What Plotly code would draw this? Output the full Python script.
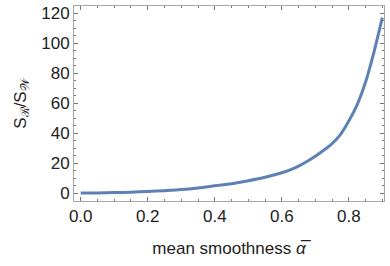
import plotly.graph_objects as go

alpha = [0.0, 0.05, 0.1, 0.15, 0.2, 0.25, 0.3, 0.35, 0.4, 0.45, 0.5, 0.55, 0.6, 0.625,
         0.65, 0.675, 0.7, 0.725, 0.75, 0.775, 0.8, 0.825, 0.85, 0.875, 0.9]
ratio = [0.0, 0.1, 0.3, 0.6, 1.0, 1.6, 2.3, 3.4, 4.8, 6.2, 8.2, 10.5, 13.5, 15.5,
         18.0, 21.0, 24.5, 28.5, 33.0, 39.0, 48.0, 59.0, 74.0, 94.0, 117.0]

x_ticks = [0.0, 0.2, 0.4, 0.6, 0.8]
x_tick_text = ["0.0", "0.2", "0.4", "0.6", "0.8"]
y_ticks = [0, 20, 40, 60, 80, 100, 120]

fig = go.Figure()
fig.add_trace(go.Scatter(x=alpha, y=ratio, mode="lines",
                         line=dict(color="#5E81B5", width=3, shape="spline", smoothing=0.8)))

frame = "#a6a6a6"
fig.update_layout(
    width=390, height=266,
    margin=dict(l=74, r=6, t=6, b=65),
    paper_bgcolor="white", plot_bgcolor="white",
    showlegend=False,
    font=dict(family="Liberation Sans, Arial", size=17, color="#222"),
)
fig.update_xaxes(
    range=[-0.02, 0.905], tickvals=x_ticks, ticktext=x_tick_text,
    automargin=False,
    showgrid=False, zeroline=False,
    showline=True, linecolor=frame, linewidth=1, mirror="ticks",
    ticks="inside", ticklen=4, tickcolor="#777", tickwidth=1,
    minor=dict(dtick=0.05, ticks="inside", ticklen=2, tickcolor="#777", showgrid=False),
    title=dict(text="mean smoothness <i>α̅</i>", font=dict(size=17), standoff=16),
    tickfont=dict(size=17),
)
fig.update_yaxes(
    range=[-5.3, 124.7], tickvals=y_ticks,
    automargin=False,
    showgrid=False, zeroline=False,
    showline=True, linecolor=frame, linewidth=1, mirror="ticks",
    ticks="inside", ticklen=4, tickcolor="#777", tickwidth=1,
    minor=dict(dtick=5, ticks="inside", ticklen=2, tickcolor="#777", showgrid=False),
    title=dict(text="S<sub>ℛ</sub>/S<sub>𝒲</sub>",
               font=dict(size=17), standoff=10),
    tickfont=dict(size=17),
)
fig.write_html("out.html", config={"displayModeBar": False},
               post_script="document.body.style.margin='0';")
